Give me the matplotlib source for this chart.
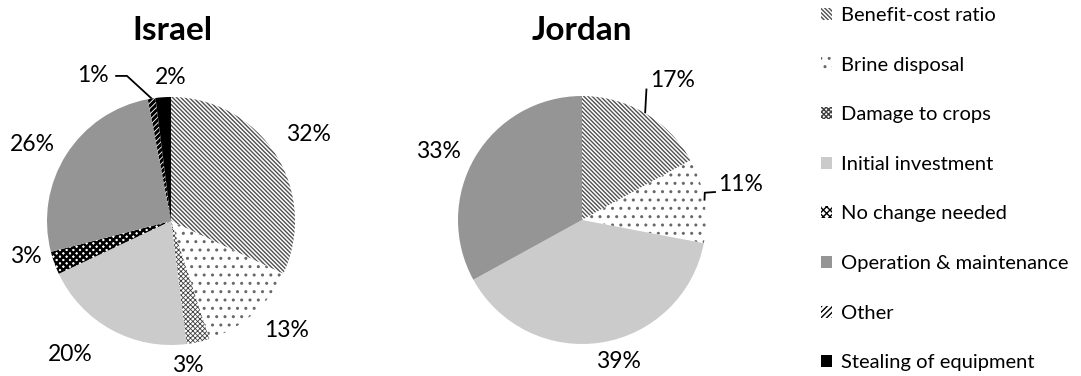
import matplotlib
matplotlib.use('Agg')
import matplotlib.pyplot as plt
from matplotlib.patches import Patch
import numpy as np

plt.rcParams['font.family'] = ['Lato', 'DejaVu Sans']

# Reasons given, shared legend for both countries
categories = ['Benefit-cost ratio', 'Brine disposal', 'Damage to crops',
              'Initial investment', 'No change needed',
              'Operation & maintenance', 'Other', 'Stealing of equipment']

israel = [32, 13, 3, 20, 3, 26, 1, 2]
jordan = [17, 11, 0, 39, 0, 33, 0, 0]

# Fill style of each category (face, hatch, hatch colour, hatch width)
faces = ['white', 'white', 'white', '#cbcbcb', 'white', '#959595', 'white', 'black']
hatches = ['\\' * 8, '..', 'x' * 7, '', 'x' * 5, '', '/' * 6, '']
hatch_cols = ['#505050', '#686868', '#404040', '#cbcbcb', 'black', '#959595', 'black', 'black']
hatch_lw = [1.0, 1.0, 0.6, 1.0, 1.8, 1.0, 2.2, 1.0]

W, H = 1081, 376
R_PX = 124
LIM = 1.5

fig = plt.figure(figsize=(W / 100, H / 100), dpi=100)


def pie_axes(cx, cy):
    size = 2 * LIM * R_PX
    ax = fig.add_axes([(cx - LIM * R_PX) / W, (H - cy - LIM * R_PX) / H, size / W, size / H])
    return ax


def draw_pie(ax, values, label_pos, leaders, left_aligned=()):
    idx = [i for i, v in enumerate(values) if v > 0]
    vals = [values[i] for i in idx]
    wedges, _ = ax.pie(vals, startangle=90, counterclock=False, radius=1,
                       colors=[faces[i] for i in idx],
                       hatch=[hatches[i] for i in idx],
                       wedgeprops=dict(linewidth=0))
    for w, i in zip(wedges, idx):
        w.set_edgecolor(hatch_cols[i])
        w.set_linewidth(0)
        if hasattr(w, 'set_hatch_linewidth'):
            w.set_hatch_linewidth(hatch_lw[i])
    ax.set_xlim(-LIM, LIM)
    ax.set_ylim(-LIM, LIM)
    ax.axis('off')

    for w, i in zip(wedges, idx):
        x, y = label_pos[i]
        ha = 'left' if i in left_aligned else 'center'
        ax.text(x, y, f'{values[i]}%', ha=ha, va='center', fontsize=16.5)
        if i in leaders:
            # leader line starts on the rim at the middle of the wedge
            mid = np.deg2rad((w.theta1 + w.theta2) / 2)
            pts = [(np.cos(mid), np.sin(mid))] + leaders[i]
            xs, ys = zip(*pts)
            ax.plot(xs, ys, color='black', lw=1.3, solid_capstyle='butt')


# Israel
ax1 = pie_axes(171, 221)
israel_labels = {0: (1.105, 0.70), 1: (0.935, -0.88), 2: (0.137, -1.165),
                 3: (-0.815, -1.08), 4: (-1.17, -0.29), 5: (-1.12, 0.62),
                 6: (-0.63, 1.177), 7: (0.0, 1.161)}
draw_pie(ax1, israel, israel_labels,
         {6: [(-0.355, 1.17), (-0.45, 1.17)]})

# Jordan
ax2 = pie_axes(582, 220)
jordan_labels = {0: (0.73, 1.121), 1: (1.10, 0.285), 3: (0.29, -1.14),
                 5: (-1.16, 0.55)}
draw_pie(ax2, jordan, jordan_labels,
         {0: [(0.52, 1.06)], 1: [(0.99, 0.22), (1.08, 0.226)]},
         left_aligned=(1,))

fig.text(172 / W, 1 - 30 / H, 'Israel', ha='center', va='center',
         fontsize=24, fontweight='bold')
fig.text(582 / W, 1 - 30 / H, 'Jordan', ha='center', va='center',
         fontsize=24, fontweight='bold')

handles = []
for i, c in enumerate(categories):
    p = Patch(facecolor=faces[i], hatch=hatches[i], edgecolor=hatch_cols[i],
              linewidth=0, label=c)
    if hasattr(p, 'set_hatch_linewidth'):
        p.set_hatch_linewidth(hatch_lw[i])
    handles.append(p)

fig.legend(handles=handles, loc='upper left', bbox_to_anchor=(821 / W, 1 - 7 / H),
           frameon=False, fontsize=14.5, handlelength=0.55, handleheight=0.55,
           handletextpad=0.45, labelspacing=1.62, borderpad=0, borderaxespad=0)

fig.savefig('out.png', dpi=100)
